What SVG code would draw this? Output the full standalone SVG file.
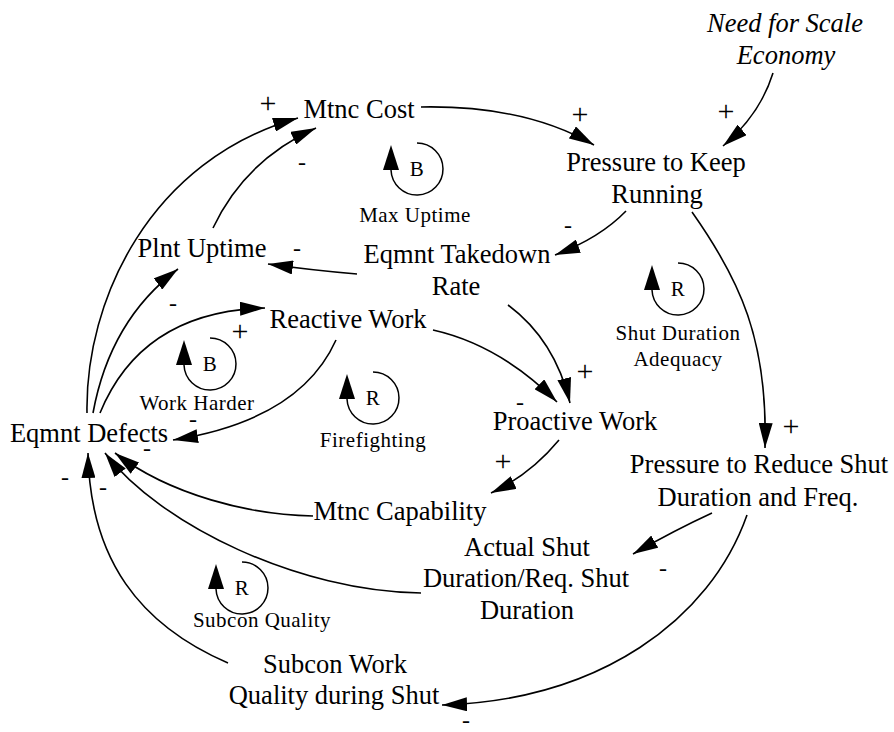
<svg xmlns="http://www.w3.org/2000/svg" width="894" height="732" viewBox="0 0 894 732">
<style>
text{font-family:"Liberation Serif","Times New Roman",serif;fill:#000}
.n{font-size:26.5px;text-anchor:middle}
.i{font-style:italic}
.s{font-size:24px;text-anchor:middle}
.p{font-size:30px;text-anchor:middle}
.l{font-size:21px;text-anchor:middle;letter-spacing:0.5px}
.c{fill:none;stroke:#000;stroke-width:1.6}
.la{fill:none;stroke:#000;stroke-width:1.5}
</style>
<defs>
<marker id="ah" markerWidth="25" markerHeight="14" refX="25" refY="7" orient="auto" markerUnits="userSpaceOnUse">
<path d="M0,0 L25,7 L0,14 z" fill="#000"/>
</marker>
</defs>
<rect width="894" height="732" fill="#fff"/>

<g id="connectors">
<path class="c" marker-end="url(#ah)" d="M421,107 Q525,105 594,145"/>
<path class="c" marker-end="url(#ah)" d="M773,73 Q760,115 723,146"/>
<path class="c" marker-end="url(#ah)" d="M626,211 Q600,238 555,255"/>
<path class="c" marker-end="url(#ah)" d="M692,212 C740,280 768,340 765,448"/>
<path class="c" marker-end="url(#ah)" d="M357,274 Q310,270 268,264"/>
<path class="c" marker-end="url(#ah)" d="M213,228 Q245,160 316,128"/>
<path class="c" marker-end="url(#ah)" d="M87,413 C85,300 150,160 298,118"/>
<path class="c" marker-end="url(#ah)" d="M93,413 Q110,320 178,269"/>
<path class="c" marker-end="url(#ah)" d="M100,413 C130,340 190,310 265,308"/>
<path class="c" marker-end="url(#ah)" d="M336,340 Q300,420 173,440"/>
<path class="c" marker-end="url(#ah)" d="M433,330 Q500,345 557,402"/>
<path class="c" marker-end="url(#ah)" d="M508,305 Q555,340 570,403"/>
<path class="c" marker-end="url(#ah)" d="M559,440 Q530,475 491,493"/>
<path class="c" marker-end="url(#ah)" d="M313,516 C250,515 170,495 115,453"/>
<path class="c" marker-end="url(#ah)" d="M421,593 C300,592 160,525 105,453"/>
<path class="c" marker-end="url(#ah)" d="M228,663 C140,625 90,560 88,453"/>
<path class="c" marker-end="url(#ah)" d="M712,513 Q675,530 633,554"/>
<path class="c" marker-end="url(#ah)" d="M747,515 C710,620 600,700 442,705"/>
</g>

<g id="polarities">
<text class="p" x="268" y="113">+</text>
<text class="s" x="302" y="170">-</text>
<text class="p" x="580" y="124">+</text>
<text class="p" x="726" y="121">+</text>
<text class="s" x="568" y="233">-</text>
<text class="s" x="297" y="256">-</text>
<text class="s" x="173" y="311">-</text>
<text class="p" x="240" y="341">+</text>
<text class="s" x="193" y="427">-</text>
<text class="s" x="147" y="456">-</text>
<text class="s" x="65" y="485">-</text>
<text class="s" x="103" y="495">-</text>
<text class="p" x="585" y="381">+</text>
<text class="s" x="520" y="410">-</text>
<text class="p" x="791" y="436">+</text>
<text class="p" x="503" y="471">+</text>
<text class="s" x="663" y="576">-</text>
<text class="s" x="466" y="728">-</text>
</g>

<g id="need_scale"><text class="n i" x="785" y="32">Need for Scale</text><text class="n i" x="786" y="64">Economy</text></g>
<g id="mtnc_cost"><text class="n" x="359" y="118">Mtnc Cost</text></g>
<g id="pressure_keep"><text class="n" x="656" y="171">Pressure to Keep</text><text class="n" x="657" y="203">Running</text></g>
<g id="plnt_uptime"><text class="n" x="202" y="257">Plnt Uptime</text></g>
<g id="takedown"><text class="n" x="457" y="263">Eqmnt Takedown</text><text class="n" x="456" y="295">Rate</text></g>
<g id="reactive"><text class="n" x="348" y="328">Reactive Work</text></g>
<g id="proactive"><text class="n" x="575" y="430">Proactive Work</text></g>
<g id="defects"><text class="n" x="89" y="442">Eqmnt Defects</text></g>
<g id="pressure_reduce"><text class="n" x="759" y="473">Pressure to Reduce Shut</text><text class="n" x="758" y="506">Duration and Freq.</text></g>
<g id="mtnc_cap"><text class="n" x="400" y="520">Mtnc Capability</text></g>
<g id="actual_shut"><text class="n" x="527" y="556">Actual Shut</text><text class="n" x="526" y="587">Duration/Req. Shut</text><text class="n" x="527" y="619">Duration</text></g>
<g id="subcon"><text class="n" x="335" y="673">Subcon Work</text><text class="n" x="334" y="704">Quality during Shut</text></g>

<g id="loop_max_uptime">
<path class="la" d="M417,143 A26,26 0 1 1 391,170"/>
<path d="M391,145 L383,170 L399,170 z"/>
<text class="l" x="417" y="176">B</text>
<text class="l" x="415" y="222">Max Uptime</text>
</g>
<g id="loop_shut_duration">
<path class="la" d="M678,263 A26,26 0 1 1 652,290"/>
<path d="M652,265 L644,290 L660,290 z"/>
<text class="l" x="678" y="296">R</text>
<text class="l" x="678" y="340">Shut Duration</text>
<text class="l" x="678" y="366">Adequacy</text>
</g>
<g id="loop_work_harder">
<path class="la" d="M210,338 A26,26 0 1 1 184,365"/>
<path d="M184,340 L176,365 L192,365 z"/>
<text class="l" x="210" y="371">B</text>
<text class="l" x="197" y="410">Work Harder</text>
</g>
<g id="loop_firefighting">
<path class="la" d="M373,372 A26,26 0 1 1 347,399"/>
<path d="M347,374 L339,399 L355,399 z"/>
<text class="l" x="373" y="405">R</text>
<text class="l" x="373" y="447">Firefighting</text>
</g>
<g id="loop_subcon_quality">
<path class="la" d="M242,562 A26,26 0 1 1 216,589"/>
<path d="M216,564 L208,589 L224,589 z"/>
<text class="l" x="242" y="595">R</text>
<text class="l" x="262" y="627">Subcon Quality</text>
</g>
</svg>
